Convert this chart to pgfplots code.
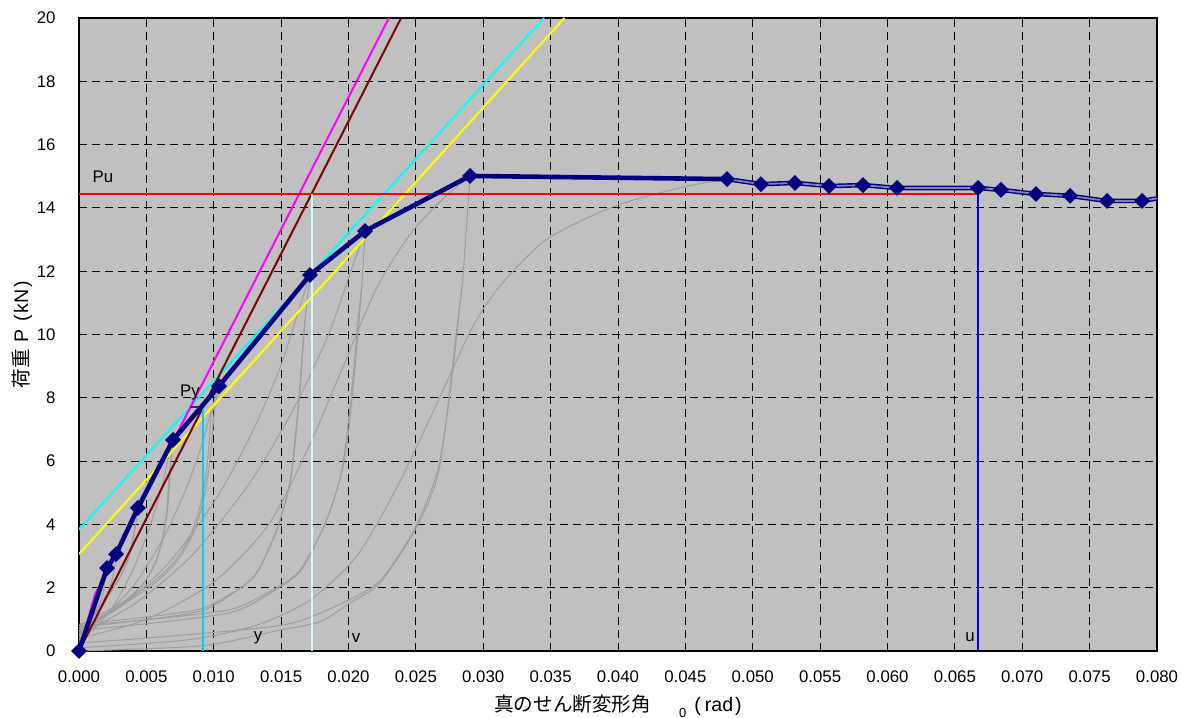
\documentclass[border=0pt]{standalone}
\usepackage{fontspec}
\setmainfont{Liberation Sans}
\newfontfamily\jp{Noto Sans CJK JP}
\usepackage{pgfplots}
\pgfplotsset{compat=1.18}
\definecolor{bg}{RGB}{192,192,192}
\definecolor{navyc}{RGB}{0,0,128}
\definecolor{maroonc}{RGB}{128,0,0}
\definecolor{hyst}{RGB}{158,158,158}
\definecolor{paleaq}{RGB}{204,255,255}
\definecolor{skyb}{RGB}{0,204,255}
\definecolor{purp}{RGB}{128,0,128}
\definecolor{dbl}{RGB}{130,130,170}
\definecolor{magc}{RGB}{255,0,255}
\definecolor{cyac}{RGB}{0,255,255}
\definecolor{yelc}{RGB}{255,255,0}
\definecolor{redc}{RGB}{255,0,0}
\definecolor{bluc}{RGB}{0,0,255}
\newcommand\fs{\fontsize{8.4}{10}\selectfont}
\newcommand\fl{\fontsize{9.8}{11}\selectfont}
\begin{document}
\begin{tikzpicture}
\begin{axis}[name=ax, scale only axis, width=539pt, height=316.5pt,
  xmin=0, xmax=0.08, ymin=0, ymax=20,
  xtick={0,0.005,0.01,0.015,0.02,0.025,0.03,0.035,0.04,0.045,0.05,0.055,0.06,0.065,0.07,0.075,0.08},
  ytick={0,2,4,6,8,10,12,14,16,18,20},
  scaled x ticks=false,
  grid=major,
  major grid style={black, line width=0.5pt, dash pattern=on 4pt off 2.5pt},
  axis background/.style={fill=bg},
  axis line style={black, line width=0.9pt},
  tick align=inside, tick pos=left, major tick length=2.5pt,
  tick style={black, line width=0.5pt},
  /pgf/number format/assume math mode=true,
  tick label style={font=\fs},
  xticklabel style={/pgf/number format/fixed, /pgf/number format/fixed zerofill, /pgf/number format/precision=3, yshift=-6.5pt},
  yticklabel style={xshift=-8.2pt},
  xlabel={{\jp 真のせん断変形角}\hspace{14pt}\raisebox{-0.55ex}{\fontsize{6.5}{7}\selectfont 0}\hspace{4pt}(\hspace{2pt}rad\hspace{1pt})},
  ylabel={{\jp 荷重}\hspace{3pt}P\hspace{4pt}(\hspace{1pt}kN\hspace{1pt})},
  every axis x label/.style={at={(axis description cs:0.5,0)}, anchor=center, yshift=-27.5pt, font=\fl},
  every axis y label/.style={at={([xshift=-28.5pt]axis description cs:0,0.5)}, rotate=90, anchor=center, font=\fl},
]
% hysteresis curves
\pgfplotsset{hy/.style={hyst, line width=0.5pt, smooth, tension=0.45, no marks}}
\addplot[hy] coordinates {(0,0.35)(0.0006,0.76)(0.0011,1.13)(0.00144,1.42)(0.00168,1.68)(0.00184,1.93)(0.0020,2.4)};
\addplot[hy] coordinates {(0,0.45)(0.00081,0.93)(0.001485,1.36)(0.001944,1.70)(0.002268,2.01)(0.002484,2.30)(0.0027,2.85)};
\addplot[hy] coordinates {(0,0.5)(0.00126,1.2)(0.00231,1.83)(0.003024,2.32)(0.003528,2.78)(0.003864,3.20)(0.0042,4.0)};
\addplot[hy] coordinates {(0,0.6)(0.00123,1.24)(0.002255,1.82)(0.002952,2.26)(0.003444,2.68)(0.003772,3.06)(0.0041,3.8)};
\addplot[hy] coordinates {(0,0.3)(0.001388,0.81)(0.002776,1.57)(0.004164,2.72)(0.005205,3.87)(0.006038,5.01)(0.006593,6.03)(0.00698,6.67)};
\addplot[hy] coordinates {(0,0.6)(0.00204,1.13)(0.00374,1.66)(0.004896,2.19)(0.005712,2.83)(0.006256,3.62)(0.006596,4.58)(0.0068,5.9)};
\addplot[hy] coordinates {(0,0.7)(0.00201,1.19)(0.003685,1.68)(0.004824,2.17)(0.005628,2.76)(0.006164,3.49)(0.006499,4.38)(0.0067,5.6)};
\addplot[hy] coordinates {(0,0.55)(0.002066,1.18)(0.004132,2.11)(0.006198,3.52)(0.007748,4.93)(0.008987,6.34)(0.009814,7.59)(0.01039,8.37)};
\addplot[hy] coordinates {(0,0.7)(0.003,1.4)(0.0055,2.1)(0.0072,2.8)(0.0084,3.64)(0.0092,4.69)(0.0097,5.95)(0.01006,7.7)};
\addplot[hy] coordinates {(0,0.8)(0.00294,1.47)(0.00539,2.14)(0.007056,2.81)(0.008232,3.61)(0.009016,4.62)(0.009506,5.83)(0.0098,7.5)};
\addplot[hy] coordinates {(0,0.6)(0.00341,1.50)(0.00682,2.86)(0.01029,4.89)(0.01286,6.92)(0.01492,8.95)(0.01629,10.75)(0.01714,11.88)};
\addplot[hy] coordinates {(0,0.75)(0.005004,0.99)(0.009174,1.28)(0.01174,1.92)(0.01325,2.50)(0.01476,3.95)(0.01577,5.61)(0.01635,8.03)(0.01677,10.46)};
\addplot[hy] coordinates {(0,0.85)(0.004959,1.07)(0.009092,1.34)(0.01164,1.91)(0.01313,2.44)(0.01463,3.76)(0.01563,5.26)(0.01621,7.47)(0.01662,9.67)};
\addplot[hy] coordinates {(0,0.5)(0.004222,1.52)(0.008444,3.05)(0.01274,5.35)(0.01592,7.65)(0.01847,9.95)(0.02017,11.99)(0.02123,13.27)};
\addplot[hy] coordinates {(0,0.65)(0.006261,0.92)(0.01154,1.25)(0.01469,1.96)(0.01658,2.61)(0.01847,4.25)(0.01973,6.11)(0.02046,8.83)(0.02099,11.56)};
\addplot[hy] coordinates {(0,0.8)(0.00618,1.04)(0.01139,1.33)(0.0145,1.96)(0.01637,2.54)(0.01823,3.99)(0.01947,5.63)(0.0202,8.05)(0.02071,10.46)};
\addplot[hy] coordinates {(0,0.4)(0.005,1.0)(0.01006,2.2)(0.01408,4.0)(0.0171,6.5)(0.01961,9.0)(0.02212,11.5)(0.02464,13.2)(0.02705,14.3)(0.02902,15.01)};
\addplot[hy] coordinates {(0,0.0)(0.0092,0.17)(0.01488,0.66)(0.0179,0.93)(0.02011,1.52)(0.02232,2.15)(0.02504,3.9)(0.02675,5.8)(0.02806,10.25)(0.02847,11.67)};
\addplot[hy] coordinates {(0,0.25)(0.0085,0.53)(0.0156,0.86)(0.01985,1.58)(0.0224,2.24)(0.02495,3.90)(0.02666,5.78)(0.02765,8.54)(0.02836,11.3)};
\addplot[hy] coordinates {(0,0.1)(0.008,0.35)(0.01307,0.8)(0.0171,1.6)(0.02061,3.0)(0.02363,5.2)(0.02665,7.9)(0.02916,10.2)(0.03117,11.5)(0.03469,13.0)(0.03972,14.05)(0.04475,14.65)(0.04809,14.91)};
\pgfplotsset{hv/.style={hyst, line width=0.5pt, no marks}}
\addplot[hv] coordinates {(0.00275,3.06)(0.0027,2.85)};
\addplot[hv] coordinates {(0.00437,4.52)(0.0042,4.0)(0.0041,3.8)};
\addplot[hv] coordinates {(0.00698,6.67)(0.0068,5.9)(0.0067,5.6)};
\addplot[hv] coordinates {(0.01039,8.37)(0.01006,7.7)(0.0098,7.5)};
\addplot[hv] coordinates {(0.01714,11.88)(0.01677,10.46)(0.01662,9.67)};
\addplot[hv] coordinates {(0.02123,13.27)(0.02099,11.56)(0.02071,10.46)};
\addplot[hv] coordinates {(0.02902,15.01)(0.02847,11.67)(0.02836,11.3)};
% straight lines
\addplot[yelc, line width=1pt, no marks] coordinates {(0,3.06)(0.03602,20)};
\addplot[cyac, line width=1pt, no marks] coordinates {(0,3.84)(0.03451,20)};
\addplot[magc, line width=1pt, no marks] coordinates {(0,0)(0.0012,1.8)(0.0230,20)};
\addplot[maroonc, line width=1pt, no marks] coordinates {(0,0)(0.02390,20)};
\addplot[redc, line width=1pt, no marks] coordinates {(0,14.455)(0.06672,14.455)};
\addplot[paleaq, line width=1pt, no marks] coordinates {(0.01727,0)(0.01727,14.455)};
\addplot[skyb, line width=1pt, no marks] coordinates {(0.00922,0)(0.00922,7.72)};
\addplot[bluc, line width=1pt, no marks] coordinates {(0.06672,0)(0.06672,14.455)};
\addplot[purp, line width=1pt, no marks] coordinates {(0.00824,7.72)(0.00922,7.72)};
% envelope
\addplot[navyc, line width=2.3pt, no marks] coordinates {(0,0)(0.00208,2.62)(0.00275,3.06)(0.00437,4.52)(0.00698,6.67)(0.01039,8.37)(0.01714,11.88)(0.02123,13.27)(0.02902,15.01)(0.04809,14.91)};
\addplot[draw=navyc, double=dbl, double distance=0.9pt, line width=0.7pt, no marks] coordinates {(0.04809,14.91)(0.05061,14.75)(0.05313,14.79)(0.05566,14.69)(0.05818,14.72)(0.06071,14.63)(0.06672,14.63)(0.06842,14.57)(0.07102,14.44)(0.07355,14.38)(0.07629,14.22)(0.07889,14.22)(0.0800,14.30)};
\addplot[only marks, mark=square*, mark size=2.6pt, mark options={rotate=45, fill=navyc, draw=navyc}] coordinates {(0,0)(0.00208,2.62)(0.00275,3.06)(0.00437,4.52)(0.00698,6.67)(0.01039,8.37)(0.01714,11.88)(0.02123,13.27)(0.02902,15.01)(0.04809,14.91)(0.05061,14.75)(0.05313,14.79)(0.05566,14.69)(0.05818,14.72)(0.06071,14.63)(0.06672,14.63)(0.06842,14.57)(0.07102,14.44)(0.07355,14.38)(0.07629,14.22)(0.07889,14.22)};
% labels
\node[font=\fs] at (axis cs:0.00178,14.98) {Pu};
\node[font=\fs] at (axis cs:0.00824,8.18) {Py};
\node[font=\fs] at (axis cs:0.01328,0.41) {y};
\node[font=\fs] at (axis cs:0.02056,0.41) {v};
\node[font=\fs] at (axis cs:0.06612,0.44) {u};
\end{axis}
\pgfresetboundingbox
\path[use as bounding box] ([xshift=-39.5pt,yshift=-33pt]ax.south west) rectangle ([xshift=12.5pt,yshift=9pt]ax.north east);
\end{tikzpicture}
\end{document}
